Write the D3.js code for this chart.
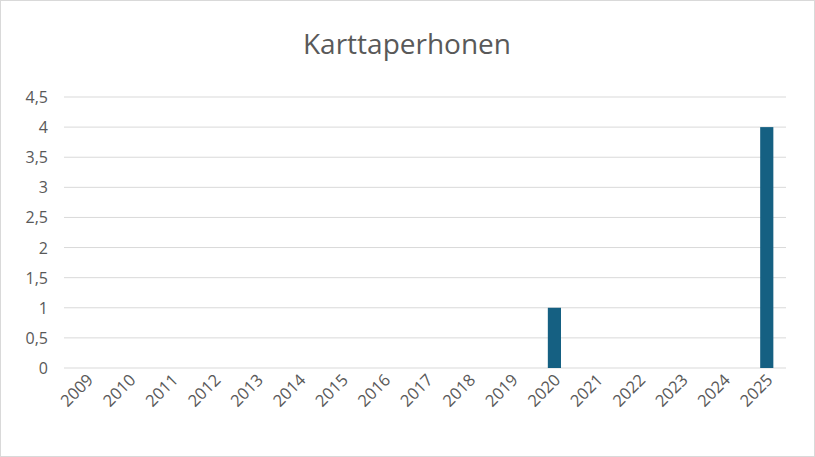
<!DOCTYPE html>
<html><head><meta charset="utf-8">
<script src="https://cdn.jsdelivr.net/npm/d3@7"></script>
<style>body{margin:0;background:#fff}</style></head>
<body><svg id="c" width="815" height="457"></svg>
<script>
const categories=["2009","2010","2011","2012","2013","2014","2015","2016","2017","2018","2019","2020","2021","2022","2023","2024","2025"];
const values=[0,0,0,0,0,0,0,0,0,0,0,1,0,0,0,0,4];
const yTicks=[0,0.5,1,1.5,2,2.5,3,3.5,4,4.5];
const title="Karttaperhonen";
const svg=d3.select("#c");
const font="'Open Sans', 'Liberation Sans', sans-serif";
svg.append("rect").attr("x",0.5).attr("y",0.5).attr("width",814).attr("height",456).attr("fill","#fff").attr("stroke","#d9d9d9");
svg.append("text").attr("x",407).attr("y",54).attr("text-anchor","middle").attr("font-family",font).attr("font-size",28).attr("fill","#595959").text(title);
const x=d3.scaleBand().domain(categories).range([66,788]).paddingInner(0.69).paddingOuter(0.345);
const y=d3.scaleLinear().domain([0,4.5]).range([368,97]);
const fmt=d=>String(d).replace(".",",");
svg.append("g").selectAll("line").data(yTicks).join("line").attr("x1",64).attr("x2",786).attr("y1",d=>y(d)).attr("y2",d=>y(d)).attr("stroke","#d9d9d9");
svg.append("g").selectAll("text").data(yTicks).join("text").attr("x",48).attr("y",d=>y(d)+6).attr("text-anchor","end").attr("font-family",font).attr("font-size",16).attr("fill","#595959").text(fmt);
svg.append("g").selectAll("rect").data(values).join("rect").attr("x",(d,i)=>x(categories[i])).attr("width",x.bandwidth()).attr("y",d=>y(d)).attr("height",d=>y(0)-y(d)).attr("fill","#156082");
svg.append("g").selectAll("text").data(categories).join("text").attr("transform",d=>`translate(${x(d)+x.bandwidth()/2+7},${381}) rotate(-45)`).attr("text-anchor","end").attr("font-family",font).attr("font-size",16.5).attr("fill","#595959").text(d=>d);
</script></body></html>
